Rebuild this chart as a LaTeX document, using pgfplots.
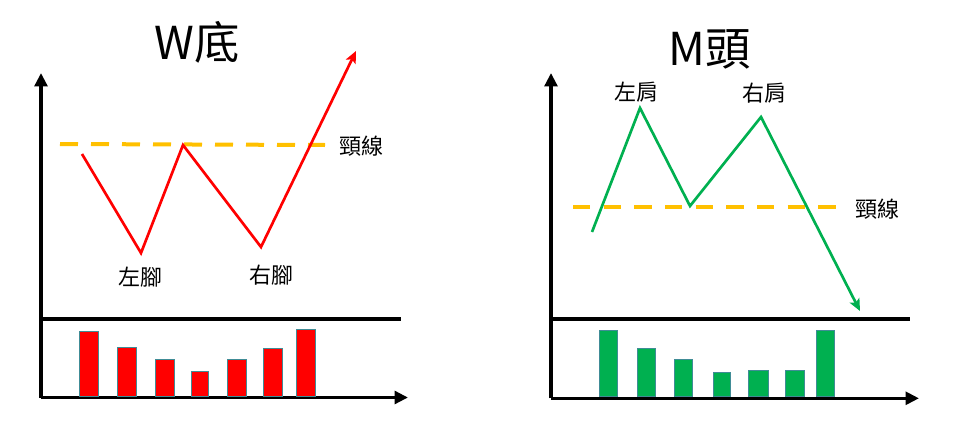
\documentclass[border=0pt]{standalone}
\usepackage{fontspec}
\setmainfont{Noto Sans CJK TC}
\usepackage{pgfplots}
\pgfplotsset{compat=1.18}
\usetikzlibrary{arrows.meta}
\definecolor{upred}{RGB}{255,0,0}
\definecolor{dngreen}{RGB}{0,176,80}
\definecolor{neck}{RGB}{255,192,0}
\definecolor{edge}{RGB}{64,140,150}
\pgfplotsset{
  panel/.style={
    x=0.75pt, y=0.75pt,
    axis lines=left,
    xtick=\empty, ytick=\empty,
    enlargelimits=false,
    clip=false,
    anchor=south west,
    axis line style={line width=2.7pt, black, -{Triangle[length=10pt,width=9.5pt]}},
  },
}
\tikzset{
  lbl/.style={font=\fontsize{16.5}{18}\selectfont},
  ttl/.style={font=\fontsize{34}{36}\selectfont},
}
\begin{document}
\begin{tikzpicture}
\path[use as bounding box] (0,-22.5pt) rectangle (720pt,297pt);
% ---------------- W bottom ----------------
\begin{axis}[panel, at={(30.75pt,-1.125pt)},
  xmin=41, xmax=408, ymin=-1.5, ymax=323]
  \addplot[black, line width=2.6pt] coordinates {(41,77) (401,77)};
  \addplot[neck, line width=3pt, dash pattern=on 13.5pt off 9.75pt] coordinates {(60,252) (325,251)};
  \addplot[upred, line width=2pt, -{Stealth[length=9pt,width=8pt,inset=2pt]}]
    coordinates {(82,242) (141,143) (183,251) (261,149) (356,345)};
  \addplot[ybar, bar shift=0pt, bar width=19, fill=upred, draw=edge, line width=0.7pt]
    coordinates {(88.5,65) (126.5,49) (164.5,37) (237,37) (273,48) (306,67)};
  \addplot[ybar, bar shift=0pt, bar width=16.5, fill=upred, draw=edge, line width=0.7pt]
    coordinates {(200,25)};
  \node[ttl] at (axis cs:197,354) {W底};
  \node[lbl] at (axis cs:361,250) {頸線};
  \node[lbl] at (axis cs:140,119) {左腳};
  \node[lbl] at (axis cs:271,121) {右腳};
\end{axis}
% ---------------- M top ----------------
\begin{axis}[panel, at={(413.25pt,-1.725pt)},
  xmin=551, xmax=919, ymin=-2.3, ymax=323]
  \addplot[black, line width=2.6pt] coordinates {(551,77) (910,77)};
  \addplot[neck, line width=3pt, dash pattern=on 13pt off 10pt] coordinates {(573,189) (837,189)};
  \addplot[dngreen, line width=2pt, -{Stealth[length=9pt,width=8pt,inset=2pt]}]
    coordinates {(592,164) (640,288) (690,190) (761,279) (860,85)};
  \addplot[ybar, bar shift=0pt, bar width=18, fill=dngreen, draw=edge, line width=0.7pt]
    coordinates {(608,66) (646,48) (683,37) (825.5,66)};
  \addplot[ybar, bar shift=0pt, bar width=17, fill=dngreen, draw=edge, line width=0.7pt]
    coordinates {(721.5,24)};
  \addplot[ybar, bar shift=0pt, bar width=20, fill=dngreen, draw=edge, line width=0.7pt]
    coordinates {(758.5,26)};
  \addplot[ybar, bar shift=0pt, bar width=19, fill=dngreen, draw=edge, line width=0.7pt]
    coordinates {(794.5,26)};
  \node[ttl] at (axis cs:710,347) {M頭};
  \node[lbl] at (axis cs:877,187) {頸線};
  \node[lbl] at (axis cs:636,304) {左肩};
  \node[lbl] at (axis cs:764,303) {右肩};
\end{axis}
\end{tikzpicture}
\end{document}
